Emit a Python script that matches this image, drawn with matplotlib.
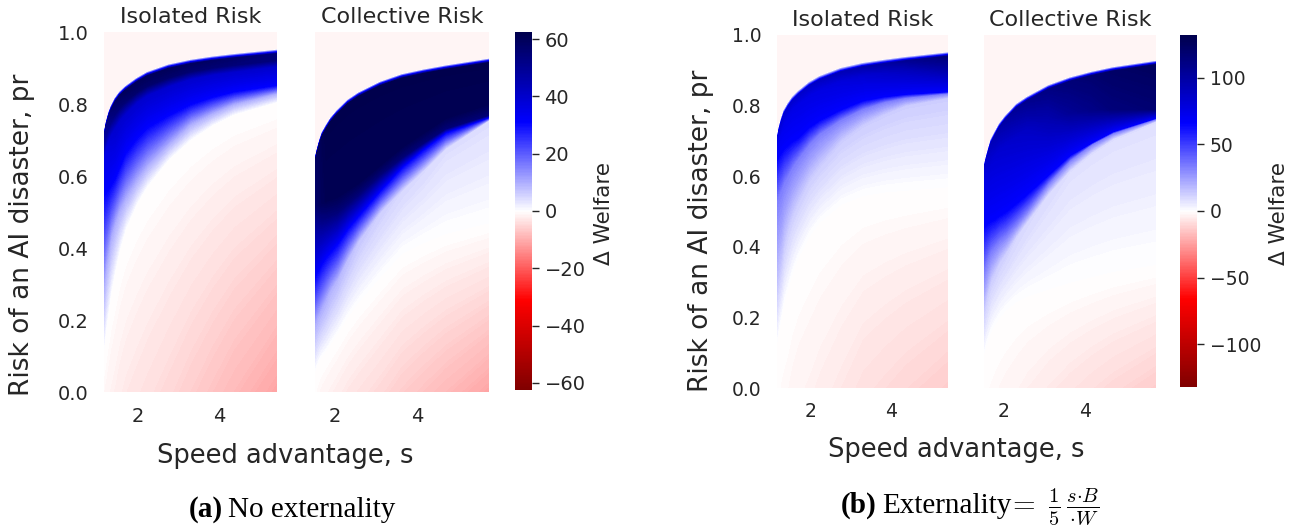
import numpy as np
import matplotlib
matplotlib.use("Agg")
import matplotlib.pyplot as plt
from matplotlib.colors import Normalize
from matplotlib.cm import ScalarMappable
from matplotlib.ticker import FormatStrFormatter

# ------------------------------------------------------------------
# Data.  Each heatmap is described column by
# column (speed advantage s) through the risk levels pr at which the
# welfare change reaches characteristic values; the library's contour
# routine interpolates between these knots.
# ------------------------------------------------------------------
s_iso = [1.16, 1.21, 1.27, 1.33, 1.43, 1.54, 1.69, 1.96, 2.22, 2.75, 3.29, 3.82, 4.35, 5.41]
s_coll = [1.52, 1.57, 1.63, 1.69, 1.79, 1.90, 2.05, 2.32, 2.58, 3.11, 3.64, 4.17, 4.70, 5.76]

# (a) No externality - Isolated Risk
a_iso_zero = [0.12, 0.17, 0.22, 0.27, 0.33, 0.39, 0.45, 0.52, 0.57, 0.645, 0.70, 0.74, 0.77, 0.805]
a_iso_light = [0.30, 0.35, 0.39, 0.43, 0.47, 0.505, 0.54, 0.59, 0.63, 0.69, 0.745, 0.775, 0.80, 0.83]
a_iso_half = [0.55, 0.555, 0.565, 0.575, 0.595, 0.625, 0.665, 0.705, 0.735, 0.77, 0.80, 0.82, 0.835, 0.853]
a_iso_band = [0.655, 0.68, 0.70, 0.715, 0.735, 0.755, 0.775, 0.805, 0.825, 0.85, 0.87, 0.882, 0.89, 0.905]
a_iso_dark = [0.685, 0.712, 0.735, 0.752, 0.772, 0.79, 0.808, 0.833, 0.851, 0.874, 0.891, 0.901, 0.909, 0.922]
a_iso_edge = [0.71, 0.74, 0.765, 0.783, 0.805, 0.822, 0.838, 0.86, 0.877, 0.898, 0.911, 0.92, 0.927, 0.939]
a_iso_v_bottom = [-1.0, -1.2, -1.5, -1.7, -2.0, -2.4, -2.8, -3.3, -3.8, -4.8, -6.0, -7.2, -8.5, -11.0]
a_iso_v_light = [10] * 14
a_iso_v_half = [31] * 14
a_iso_v_band = [36, 37, 38, 39, 40, 40, 40, 40, 40, 40, 40, 40, 40, 40]
a_iso_v_dark = [45, 48, 50, 52, 54, 55, 56, 57, 57, 57, 56, 55.5, 55, 54]
a_iso_v_edge = [48, 51, 54, 56, 58, 59, 60, 60, 60, 60, 59, 58, 57, 55]
a_iso_v_top = -1.2

# (a) No externality - Collective Risk
a_col_zero = [0.06, 0.075, 0.09, 0.10, 0.115, 0.135, 0.16, 0.21, 0.25, 0.32, 0.385, 0.415, 0.44, 0.47]
a_col_light = [0.19, 0.205, 0.22, 0.235, 0.26, 0.285, 0.31, 0.37, 0.42, 0.50, 0.56, 0.615, 0.675, 0.755]
a_col_half = [0.32, 0.333, 0.345, 0.358, 0.375, 0.39, 0.41, 0.455, 0.49, 0.56, 0.625, 0.675, 0.72, 0.763]
a_col_band = [0.47, 0.472, 0.475, 0.478, 0.485, 0.492, 0.50, 0.525, 0.55, 0.605, 0.652, 0.693, 0.732, 0.77]
a_col_dark = [0.52, 0.52, 0.52, 0.525, 0.53, 0.535, 0.54, 0.56, 0.58, 0.63, 0.68, 0.72, 0.76, 0.80]
a_col_edge = [0.64, 0.665, 0.69, 0.71, 0.73, 0.75, 0.77, 0.80, 0.82, 0.85, 0.871, 0.884, 0.895, 0.914]
a_col_v_bottom = [-0.5, -0.75, -1.0, -1.2, -1.5, -1.8, -2.2, -3.0, -3.6, -4.8, -6.2, -7.3, -8.5, -11.0]
a_col_v_light = [10, 10, 10, 10, 10, 9.5, 9, 8, 7, 6, 5, 4.5, 4, 4]
a_col_v_half = [31] * 14
a_col_v_band = [50, 51, 52, 53, 54, 54.5, 55, 55, 55, 55, 55, 55, 55, 55]
a_col_v_dark = [57, 58, 59, 60, 61, 61, 61, 61, 61, 61, 61, 61, 61, 61]
a_col_v_edge = [58, 59, 60, 61, 62, 62, 62, 62, 62, 62, 62, 62, 62, 62]
a_col_v_top = -1.0

# (b) Externality - Isolated Risk
b_iso_zero = [0.13, 0.165, 0.20, 0.24, 0.28, 0.325, 0.37, 0.43, 0.47, 0.52, 0.545, 0.555, 0.56, 0.57]
b_iso_light = [0.27, 0.31, 0.35, 0.40, 0.45, 0.49, 0.53, 0.59, 0.63, 0.70, 0.745, 0.775, 0.80, 0.822]
b_iso_half = [0.53, 0.545, 0.56, 0.58, 0.60, 0.625, 0.65, 0.69, 0.72, 0.76, 0.79, 0.81, 0.822, 0.835]
b_iso_band = [0.65, 0.66, 0.67, 0.68, 0.69, 0.70, 0.71, 0.74, 0.76, 0.79, 0.815, 0.826, 0.833, 0.84]
b_iso_dark = [0.68, 0.705, 0.73, 0.75, 0.77, 0.79, 0.805, 0.83, 0.847, 0.87, 0.885, 0.894, 0.90, 0.905]
b_iso_edge = [0.70, 0.73, 0.755, 0.775, 0.795, 0.813, 0.83, 0.855, 0.872, 0.895, 0.909, 0.918, 0.926, 0.939]
b_iso_v_bottom = [-1.0, -1.2, -1.5, -1.7, -2.0, -2.5, -3.0, -3.6, -4.4, -6.0, -8.0, -9.2, -10.5, -13.0]
b_iso_v_light = [13] * 14
b_iso_v_half = [33] * 14
b_iso_v_band = [66] * 14
b_iso_v_dark = [70, 71, 72, 73, 74, 74.5, 75, 76, 77, 79, 82, 86, 90, 100]
b_iso_v_edge = [75, 78, 80, 81, 82, 83, 84, 86, 88, 92, 96, 100, 105, 115]
b_iso_v_top = -2.6

# (b) Externality - Collective Risk
b_col_zero = [0.10, 0.12, 0.14, 0.16, 0.18, 0.20, 0.22, 0.245, 0.26, 0.28, 0.30, 0.315, 0.33, 0.35]
b_col_light = [0.22, 0.25, 0.28, 0.305, 0.33, 0.355, 0.38, 0.43, 0.47, 0.55, 0.615, 0.665, 0.705, 0.755]
b_col_half = [0.33, 0.35, 0.37, 0.385, 0.40, 0.415, 0.43, 0.465, 0.50, 0.58, 0.645, 0.69, 0.722, 0.762]
b_col_band = [0.46, 0.465, 0.47, 0.475, 0.48, 0.49, 0.50, 0.525, 0.55, 0.605, 0.66, 0.695, 0.727, 0.765]
b_col_dark = [0.58, 0.60, 0.62, 0.64, 0.66, 0.675, 0.69, 0.715, 0.735, 0.76, 0.78, 0.788, 0.79, 0.79]
b_col_edge = [0.62, 0.645, 0.67, 0.693, 0.715, 0.738, 0.76, 0.793, 0.813, 0.846, 0.868, 0.884, 0.897, 0.915]
b_col_v_bottom = [-1.0, -1.15, -1.3, -1.5, -1.8, -2.1, -2.5, -3.2, -4.0, -5.5, -7.0, -8.5, -10.0, -13.0]
b_col_v_light = [13, 13, 13, 13, 13, 12.5, 12, 11, 10, 9, 8, 8, 8, 8]
b_col_v_half = [33] * 14
b_col_v_band = [66] * 14
b_col_v_dark = [75, 77, 80, 81, 82, 83, 84, 86, 88, 95, 105, 110, 115, 118]
b_col_v_edge = [80, 84, 88, 91, 95, 97, 100, 105, 108, 112, 116, 119, 122, 125]
b_col_v_top = -2.6

a_vmax = 62.5
b_vmax = 132.0
a_cbar_ticks = [-60, -40, -20, 0, 20, 40, 60]
b_cbar_ticks = [-100, -50, 0, 50, 100]
x_ticks = [2, 4]
y_ticks = [0.0, 0.2, 0.4, 0.6, 0.8, 1.0]
titles = ["Isolated Risk", "Collective Risk"]

# ------------------------------------------------------------------
TEXT = "#262626"
plt.rcParams.update({
    "font.family": ["DejaVu Sans"],
    "text.color": TEXT,
    "axes.labelcolor": TEXT,
    "xtick.color": TEXT,
    "ytick.color": TEXT,
    "mathtext.fontset": "cm",
})

W, H = 1300, 529
fig = plt.figure(figsize=(W / 100, H / 100), dpi=100)
fig.patch.set_facecolor("white")


def box(x0, y0, x1, y1):
    return [x0 / W, 1 - y1 / H, (x1 - x0) / W, (y1 - y0) / H]


def build(s, rows, vals, v_top, gap=0.012):
    n = len(s)
    one = np.ones(n)
    zero, light, half, band, dark, edge = [np.asarray(r, float) for r in rows]
    vb, vl, vh, vn, vd, ve = [np.asarray(v, float) * one for v in vals]
    P = np.vstack([0 * one, zero, light, half, band, dark, edge, edge + gap, one])
    V = np.vstack([vb, 0 * one, vl, vh, vn, vd, ve, v_top * one, v_top * one])
    S = np.tile(np.asarray(s, float), (P.shape[0], 1))
    return S, P, V


def panel(rect, S, P, V, vmax, title, show_y, tick_fs, ypad, xpad):
    ax = fig.add_axes(rect)
    norm = Normalize(-vmax, vmax)
    ax.contourf(S, P, V, levels=np.linspace(-vmax, vmax, 401),
                cmap="seismic_r", norm=norm, antialiased=False)
    ax.set_xlim(S[0, 0], S[0, -1])
    ax.set_ylim(0, 1)
    ax.set_xticks(x_ticks)
    ax.set_yticks(y_ticks)
    ax.yaxis.set_major_formatter(FormatStrFormatter("%.1f"))
    for sp in ax.spines.values():
        sp.set_visible(False)
    ax.tick_params(axis="both", length=0, labelsize=tick_fs)
    ax.tick_params(axis="y", pad=ypad, labelleft=show_y)
    ax.tick_params(axis="x", pad=xpad)
    ax.set_title(title, fontsize=16, color=TEXT, pad=6.5)
    return ax


def cbar(rect, vmax, ticks, fs):
    cax = fig.add_axes(rect)
    sm = ScalarMappable(norm=Normalize(-vmax, vmax), cmap="seismic_r")
    cb = fig.colorbar(sm, cax=cax, ticks=ticks)
    cb.outline.set_visible(False)
    cax.tick_params(length=5, width=1, color=TEXT, pad=4, labelsize=fs, labelcolor=TEXT)
    return cb


# ---- panel (a) ----
S, P, V = build(s_iso, [a_iso_zero, a_iso_light, a_iso_half, a_iso_band, a_iso_dark, a_iso_edge],
                [a_iso_v_bottom, a_iso_v_light, a_iso_v_half, a_iso_v_band, a_iso_v_dark, a_iso_v_edge],
                a_iso_v_top)
panel(box(104, 32, 277, 392), S, P, V, a_vmax, titles[0], True, 14, 11, 10.5)
S, P, V = build(s_coll, [a_col_zero, a_col_light, a_col_half, a_col_band, a_col_dark, a_col_edge],
                [a_col_v_bottom, a_col_v_light, a_col_v_half, a_col_v_band, a_col_v_dark, a_col_v_edge],
                a_col_v_top)
panel(box(315, 32, 489, 392), S, P, V, a_vmax, titles[1], False, 14, 11, 10.5)
cbar(box(515, 32, 532, 390), a_vmax, a_cbar_ticks, 14)

# ---- panel (b) ----
S, P, V = build(s_iso, [b_iso_zero, b_iso_light, b_iso_half, b_iso_band, b_iso_dark, b_iso_edge],
                [b_iso_v_bottom, b_iso_v_light, b_iso_v_half, b_iso_v_band, b_iso_v_dark, b_iso_v_edge],
                b_iso_v_top)
panel(box(777, 35, 948, 388), S, P, V, b_vmax, titles[0], True, 13.5, 11, 10)
S, P, V = build(s_coll, [b_col_zero, b_col_light, b_col_half, b_col_band, b_col_dark, b_col_edge],
                [b_col_v_bottom, b_col_v_light, b_col_v_half, b_col_v_band, b_col_v_dark, b_col_v_edge],
                b_col_v_top)
panel(box(984, 35, 1156, 388), S, P, V, b_vmax, titles[1], False, 13.5, 11, 10)
cbar(box(1180, 35, 1197, 387), b_vmax, b_cbar_ticks, 13.5)


# ---- axis labels ----
def ftext(x, y, s, **kw):
    return fig.text(x / W, 1 - y / H, s, **kw)


for xc, yb in [(285.5, 463), (956, 457)]:
    ftext(xc, yb, "Speed advantage, s", fontsize=18.5, ha="center", va="baseline", color=TEXT)
for xc, yc in [(22.5, 235), (701, 231)]:
    ftext(xc, yc, "Risk of an AI disaster, pr", fontsize=19, rotation=90,
          ha="center", va="center", color=TEXT)
for xc, yc in [(604, 213), (1279, 213)]:
    ftext(xc, yc, "\u0394 Welfare", fontsize=15.5, rotation=90,
          ha="center", va="center", color=TEXT)

# ---- captions ----
SERIF = ["Liberation Serif", "DejaVu Serif"]


def caption(parts, xc, yb, gaps):
    texts = [ftext(0, yb, s, va="baseline", ha="left", color="black", **kw) for s, kw in parts]
    fig.canvas.draw()
    r = fig.canvas.get_renderer()
    widths = [t.get_window_extent(r).width for t in texts]
    total = sum(widths) + sum(gaps)
    x = xc - total / 2
    for i, (t, w) in enumerate(zip(texts, widths)):
        t.set_x(x / W)
        x += w + (gaps[i] if i < len(gaps) else 0)


caption([("(a)", dict(fontsize=21, family=SERIF, weight="bold")),
         ("No externality", dict(fontsize=21, family=SERIF))], 292, 517, [6])
caption([("(b)", dict(fontsize=21, family=SERIF, weight="bold")),
         ("Externality", dict(fontsize=21, family=SERIF)),
         (r"${=}\ \frac{1}{5}\,\frac{s{\cdot}B}{{\cdot}W}$", dict(fontsize=21))],
        970, 513, [6, -5])

fig.savefig("out.png", dpi=100, facecolor="white")
